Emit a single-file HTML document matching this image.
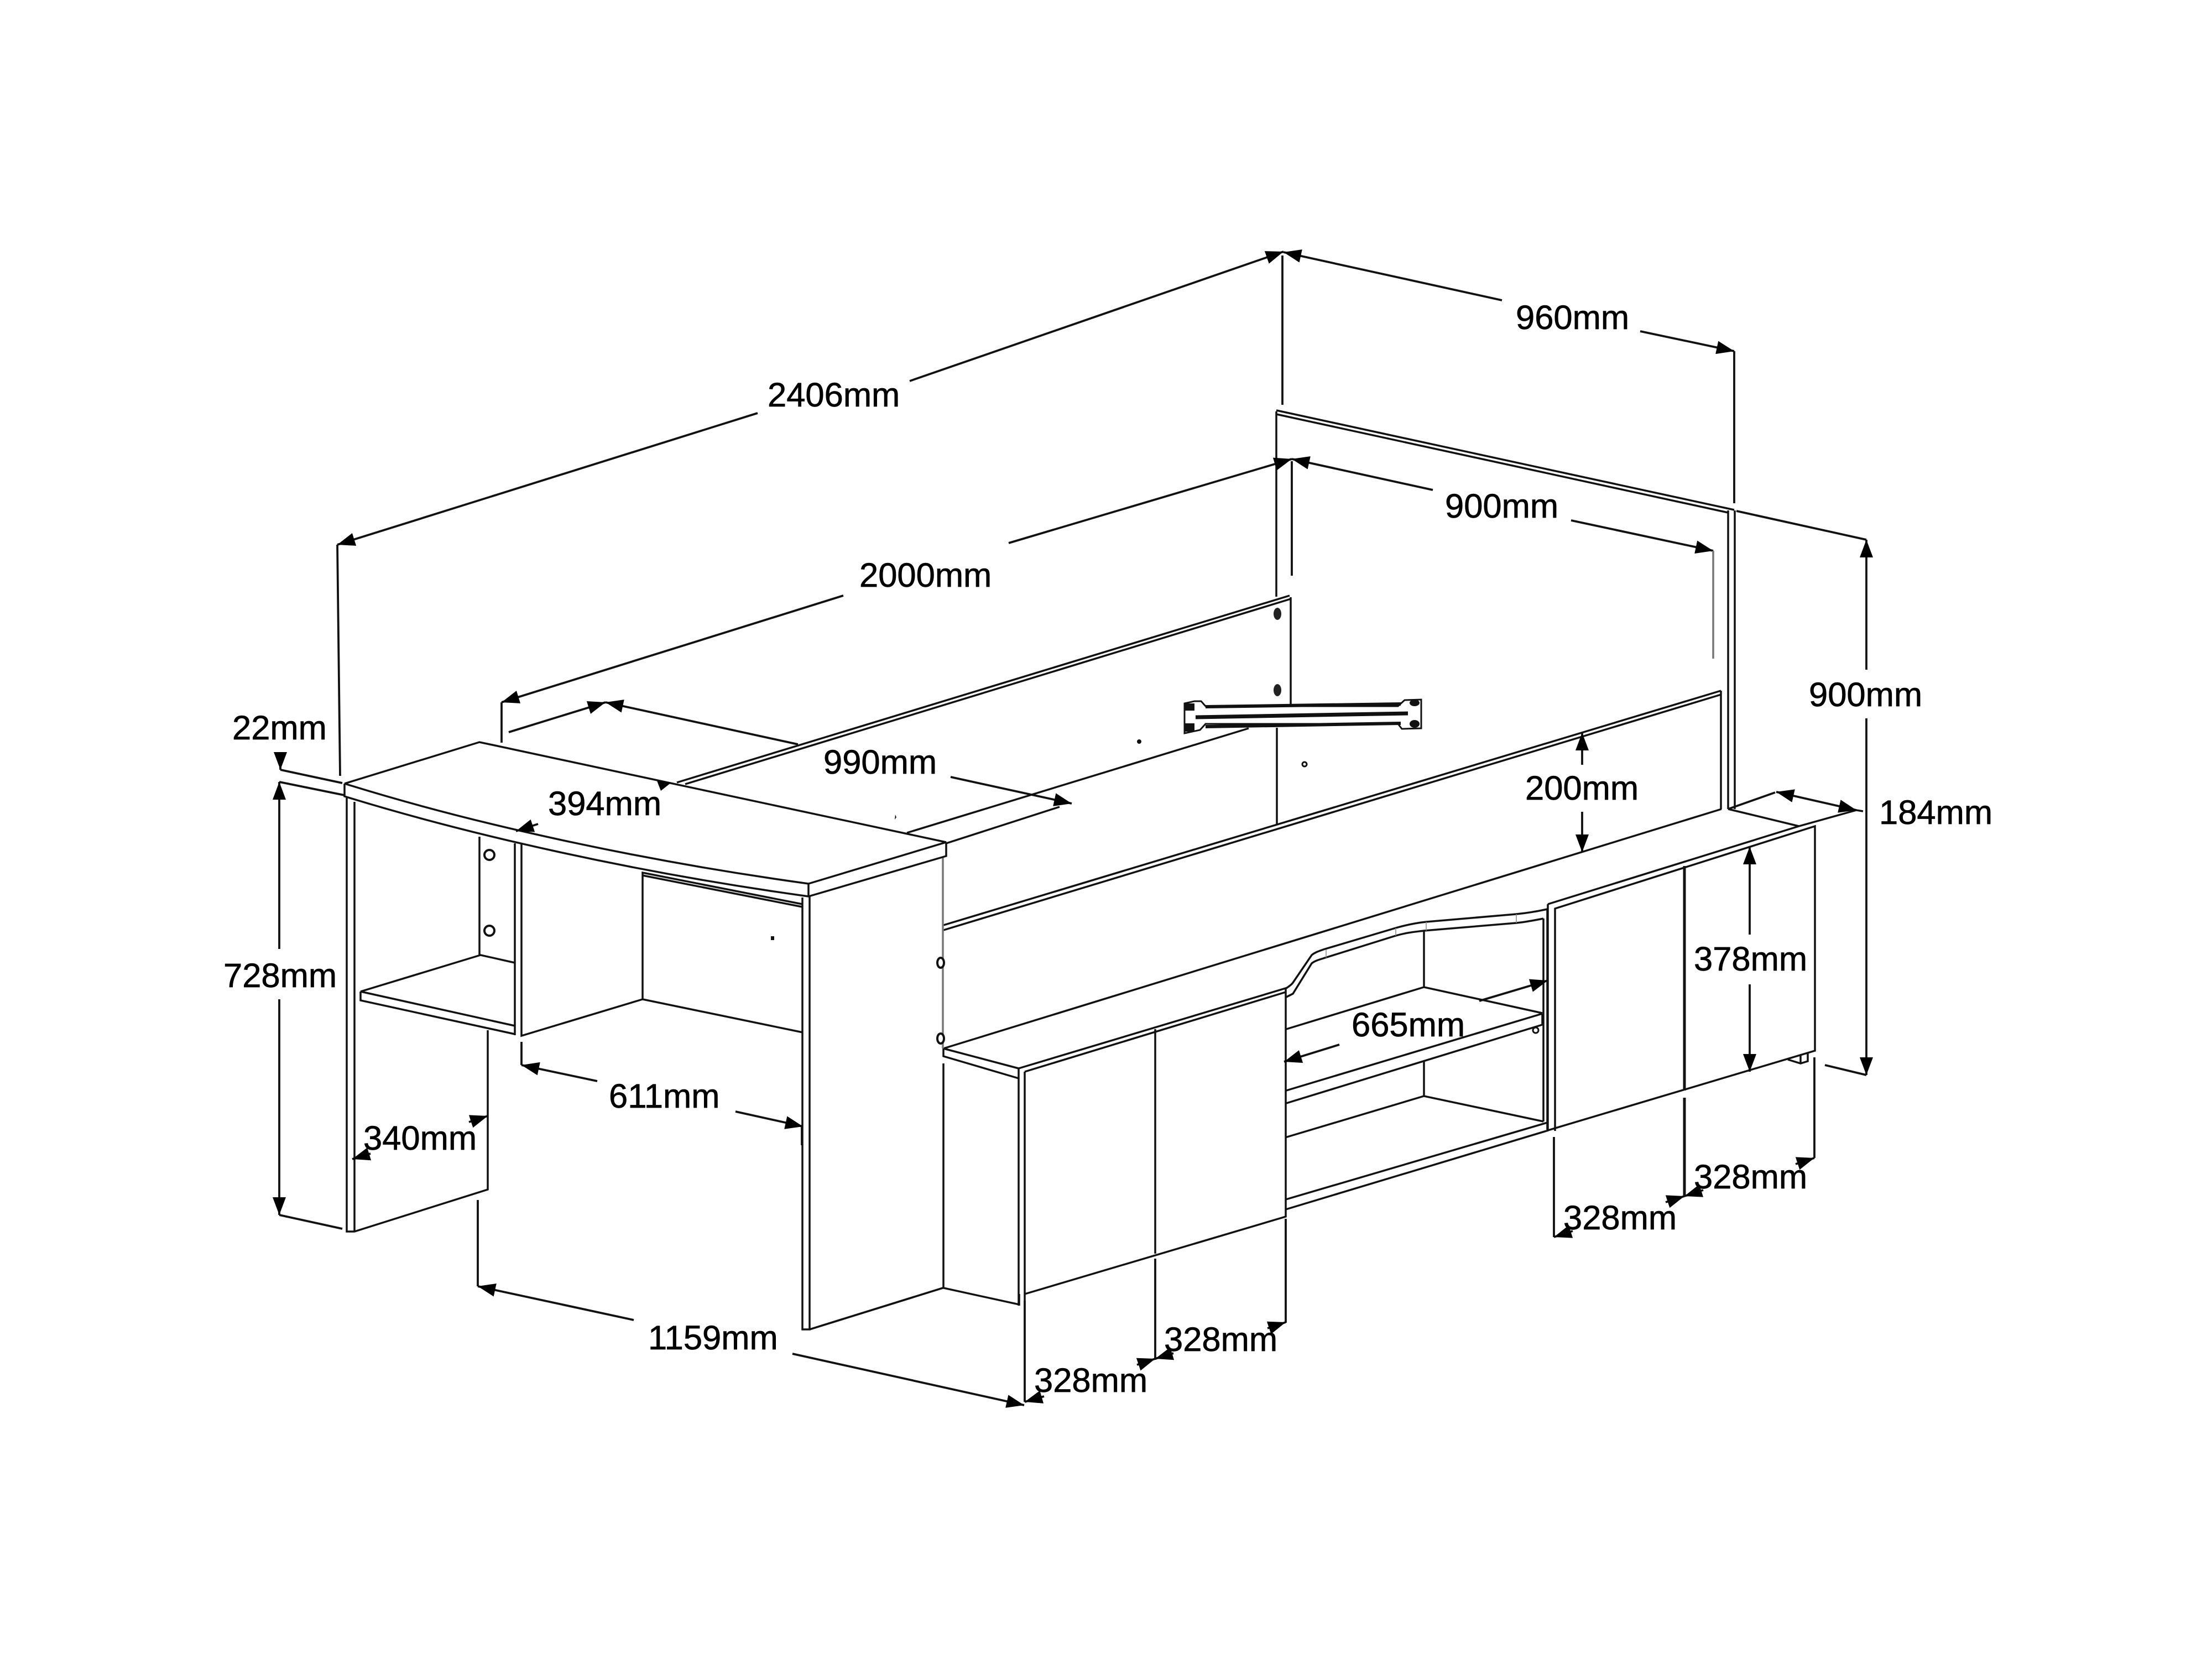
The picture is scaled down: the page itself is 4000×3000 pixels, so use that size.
<!DOCTYPE html>
<html>
<head>
<meta charset="utf-8">
<style>
html,body{margin:0;padding:0;background:#fff;width:4000px;height:3000px;overflow:hidden}
svg{display:block}
text{font-family:"Liberation Sans",sans-serif;font-size:61.5px;fill:#000;stroke:#000;stroke-width:.7}
.l{fill:none;stroke:#111;stroke-width:3.5}
.d{fill:none;stroke:#111;stroke-width:3.8}
.g{fill:none;stroke:#777;stroke-width:3.5}
.t{fill:none;stroke:#888;stroke-width:1.5}
</style>
</head>
<body>
<svg width="4000" height="3000" viewBox="0 0 4000 3000" xmlns="http://www.w3.org/2000/svg">
<defs>
<marker id="a" markerUnits="userSpaceOnUse" markerWidth="36" markerHeight="28" refX="32" refY="14" orient="auto-start-reverse"><path d="M0 2L32 14L0 26z" fill="#000"/></marker>
</defs>
<rect width="4000" height="3000" fill="#fff"/>

<!-- headboard -->
<path class="l" d="M2308 744V1079M2308 742L3136 922M2308 749L3125 927M3125 923V1463M3137 923V1463"/>
<path class="l" d="M2309 1316V1490"/>
<!-- back side panel -->
<path class="l" d="M1224 1415L2332 1077M1239 1418L2334 1083M2334 1080V1274"/>
<ellipse cx="2310" cy="1110" rx="7" ry="11" fill="#222"/>
<ellipse cx="2310" cy="1248" rx="7" ry="11" fill="#222"/>
<path class="l" d="M1640 1506L2258 1317M1711 1525L1916 1459"/>
<!-- inner rail panel -->
<path class="l" d="M1706 1673L3112 1249M1706 1682L3112 1256M3112 1249V1463"/>
<!-- bracket -->
<path d="M2142 1272L2160 1268L2172 1268L2180 1277H2528L2540 1266L2570 1265V1317L2535 1318L2528 1309H2180L2170 1320L2142 1326Z" fill="#fff" stroke="#111" stroke-width="3"/>
<path d="M2180 1278L2533 1273" stroke="#111" stroke-width="6" fill="none"/>
<path d="M2162 1297L2546 1290" stroke="#111" stroke-width="7" fill="none"/>
<path d="M2180 1314L2533 1308" stroke="#111" stroke-width="6" fill="none"/>
<rect x="2142" y="1272" width="18" height="13" fill="#111"/>
<rect x="2142" y="1308" width="18" height="15" fill="#111"/>
<ellipse cx="2558" cy="1271" rx="9" ry="6" fill="#111"/>
<ellipse cx="2558" cy="1309" rx="9" ry="7" fill="#111"/>
<!-- small marks -->
<circle cx="2060" cy="1341" r="4" fill="#111"/>
<circle cx="2359" cy="1382" r="4" fill="none" stroke="#111" stroke-width="3"/>
<path d="M1619 1473L1621 1478L1618 1482z" fill="#111"/>
<rect x="1394" y="1693" width="6" height="7" fill="#111"/>

<!-- deck -->
<path class="l" d="M1706 1896L3113 1463M1706 1896V1910L1842 1950M1706 1896L1842 1932M3125 1463L3253 1494"/>
<path class="l" d="M1706 1923V2329L1843 2359V2340M1705 2329L1464 2404"/>
<path class="g" d="M1705 1550V1896"/>
<ellipse cx="1701" cy="1741" rx="6" ry="9" fill="#fff" stroke="#111" stroke-width="4"/>
<ellipse cx="1701" cy="1878" rx="6" ry="9" fill="#fff" stroke="#111" stroke-width="4"/>

<!-- left doors -->
<path class="l" d="M1842 1932L2325 1787V2200L1853 2340M1842 1932V2361M1853 1938V2352M1853 1938L2325 1794"/>
<path class="l" d="M2089 1861V2267"/>

<!-- opening -->
<path class="l" d="M2326 1787C2332 1783 2336 1780 2338 1777L2372 1727C2378 1722 2385 1720 2393 1717L2524 1678C2545 1672 2560 1669 2579 1667L2742 1653C2762 1651 2780 1648 2798 1644"/>
<path class="l" d="M2326 1803C2332 1800 2336 1798 2338 1797L2372 1742C2378 1737 2387 1735 2396 1732L2524 1692C2545 1686 2560 1685 2575 1683L2742 1669C2762 1667 2775 1664 2791 1661"/>
<path class="t" d="M2398 1717V1732M2524 1678V1692M2579 1667V1683M2742 1653V1669"/>
<path class="l" d="M2575 1683V1785M2326 1861L2575 1785L2789 1832M2326 1972L2789 1833M2326 1995L2789 1853M2789 1833V1853"/>
<path class="l" d="M2575 1920V1982M2324 2057L2575 1982L2791 2028M2325 2169L2798 2030M2325 2187L2800 2044"/>
<path class="l" d="M2791 1661V2028M2798 1644V2043"/>
<circle cx="2777" cy="1863" r="5" fill="none" stroke="#111" stroke-width="3"/>

<!-- right doors -->
<path class="l" d="M2799 1635L3253 1494L3357 1465L3369 1467"/>
<path class="l" d="M2799 1635V2044L3282 1900V1494L2812 1643V2045"/>
<path d="M3046 1566V1972" stroke="#111" stroke-width="5" fill="none"/>
<path class="l" d="M3233 1916L3256 1923L3269 1919V1903M3256 1923V1908"/>

<!-- desk top -->
<path class="l" d="M623 1417L867 1342L1711 1523L1462 1598M623 1417C850 1488 1150 1555 1462 1598V1621M623 1417V1440C850 1510 1150 1578 1462 1621L1711 1548V1523"/>
<!-- left leg -->
<path class="l" d="M627 1442V2227H641L882 2151V1863M641 1450V2227"/>
<!-- shelf and box -->
<path class="l" d="M867 1513V1727M652 1793L869 1727L931 1741M652 1793V1809L931 1870M652 1793L931 1855"/>
<path class="l" d="M931 1525V1872M943 1525V1873L1162 1807V1578L1451 1635M1162 1583L1451 1640M1162 1807L1452 1867"/>
<circle cx="885" cy="1546" r="9" fill="#fff" stroke="#111" stroke-width="4"/>
<circle cx="885" cy="1683" r="9" fill="#fff" stroke="#111" stroke-width="4"/>
<!-- right leg -->
<path class="l" d="M1451 1623V2404H1464V1621M1464 2404L1705 2329"/>

<!-- dimensions -->
<g>
<path class="d" d="M610 985L615 1403"/>
<path class="d" marker-start="url(#a)" d="M610 985L1370 747"/>
<path class="d" marker-end="url(#a)" d="M1645 689L2321 455"/>
<path class="d" d="M2319 462V732"/>
<path class="d" marker-start="url(#a)" d="M2321 456L2716 543"/>
<path class="d" marker-end="url(#a)" d="M2966 599L3136 635"/>
<path class="d" d="M3136 635V910"/>

<path class="d" marker-start="url(#a)" d="M907 1270L1525 1077"/>
<path class="d" d="M907 1270V1343"/>
<path class="d" marker-end="url(#a)" d="M1824 982L2336 830"/>
<path class="d" d="M2336 834V1041"/>
<path class="d" marker-start="url(#a)" d="M2336 830L2591 886"/>
<path class="d" marker-end="url(#a)" d="M2841 941L3098 996"/>
<path class="g" d="M3098 996V1191"/>

<path class="d" d="M3140 924L3375 976"/>
<path class="d" marker-start="url(#a)" d="M3375 976V1211"/>
<path class="d" marker-end="url(#a)" d="M3375 1299V1944"/>
<path class="d" d="M3300 1926L3375 1944"/>

<path class="d" marker-end="url(#a)" d="M920 1324L1095 1270"/>
<path class="d" marker-start="url(#a)" d="M1095 1270L1443 1346"/>
<path class="d" marker-end="url(#a)" d="M1719 1405L1938 1453"/>

<path class="d" marker-end="url(#a)" d="M973 1490L933 1503"/>
<path d="M1188 1412L1214 1415L1195 1430z" fill="#000"/>

<path class="d" marker-end="url(#a)" d="M507 1362V1392"/>
<path class="d" d="M507 1392L619 1416"/>
<path class="d" marker-start="url(#a)" d="M505 1414V1716"/>
<path class="d" marker-end="url(#a)" d="M505 1807V2197"/>
<path class="d" d="M505 1414L623 1438M505 2197L619 2222"/>

<path class="d" marker-end="url(#a)" d="M670 2086L637 2096"/>
<path class="d" marker-end="url(#a)" d="M848 2029L882 2018"/>

<path class="d" marker-start="url(#a)" d="M943 1926L1080 1955"/>
<path class="d" marker-end="url(#a)" d="M1330 2010L1452 2037"/>
<path class="d" d="M943 1884V1926M1450 2037V2071"/>

<path class="d" d="M864 2170V2326"/>
<path class="d" marker-start="url(#a)" d="M864 2326L1146 2387"/>
<path class="d" marker-end="url(#a)" d="M1433 2448L1852 2541"/>

<path class="d" d="M1853 2352V2535"/>
<path class="d" marker-end="url(#a)" d="M1888 2525L1853 2535"/>
<path class="d" d="M2089 2276V2459"/>
<path class="d" marker-end="url(#a)" d="M2056 2468L2089 2457"/>
<path class="d" marker-end="url(#a)" d="M2122 2447L2089 2457"/>
<path class="d" d="M2325 2204V2392"/>
<path class="d" marker-end="url(#a)" d="M2292 2402L2325 2391"/>

<path class="d" d="M2810 2056V2237"/>
<path class="d" marker-end="url(#a)" d="M2844 2226L2810 2237"/>
<path d="M3046 1985V2163" stroke="#111" stroke-width="5" fill="none"/>
<path class="d" marker-end="url(#a)" d="M3012 2174L3046 2163"/>
<path class="d" marker-end="url(#a)" d="M3080 2152L3046 2163"/>
<path class="d" d="M3281 1912V2094"/>
<path class="d" marker-end="url(#a)" d="M3247 2105L3281 2094"/>

<path class="d" marker-start="url(#a)" d="M3164 1531V1690"/>
<path class="d" marker-end="url(#a)" d="M3164 1780V1938"/>
<path class="d" marker-start="url(#a)" d="M2861 1325V1383"/>
<path class="d" marker-end="url(#a)" d="M2861 1468V1541"/>

<path class="d" marker-start="url(#a)" d="M2322 1920L2422 1889"/>
<path class="d" marker-end="url(#a)" d="M2675 1810L2799 1773"/>

<path class="d" d="M3125 1463L3210 1433"/>
<path class="d" marker-start="url(#a)" marker-end="url(#a)" d="M3212 1432L3357 1465"/>
</g>

<!-- labels -->
<text x="1388" y="735">2406mm</text>
<text x="2741" y="595">960mm</text>
<text x="1554" y="1061">2000mm</text>
<text x="2613" y="936">900mm</text>
<text x="3271" y="1277">900mm</text>
<text x="420" y="1337">22mm</text>
<text x="1489" y="1399">990mm</text>
<text x="991" y="1474">394mm</text>
<text x="2758" y="1446">200mm</text>
<text x="3398" y="1490">184mm</text>
<text x="404" y="1785">728mm</text>
<text x="3063" y="1755">378mm</text>
<text x="2444" y="1874">665mm</text>
<text x="1101" y="2003">611mm</text>
<text x="657" y="2079">340mm</text>
<text x="3063" y="2149">328mm</text>
<text x="2827" y="2223">328mm</text>
<text x="1172" y="2440">1159mm</text>
<text x="2105" y="2443">328mm</text>
<text x="1870" y="2517">328mm</text>
</svg>
</body>
</html>
